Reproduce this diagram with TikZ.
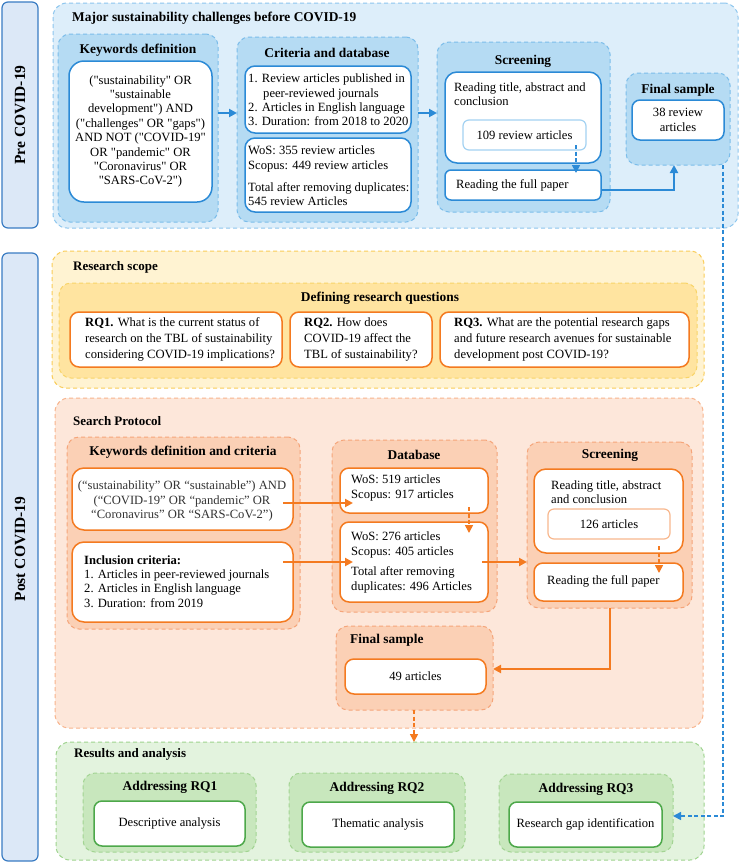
\documentclass[tikz,border=0pt]{standalone}
\usepackage{fontspec}
\setmainfont{Liberation Serif}[Ligatures=TeXOff]
\usetikzlibrary{arrows.meta,calc}
\definecolor{bline}{HTML}{2B8AD6}
\definecolor{bpanel}{HTML}{DDEEFA}
\definecolor{bpanelb}{HTML}{8DC6EE}
\definecolor{bgroup}{HTML}{B5DBF3}
\definecolor{bgroupb}{HTML}{7CBDEA}
\definecolor{blight}{HTML}{A4D2F2}
\definecolor{barfill}{HTML}{DCE8F7}
\definecolor{barline}{HTML}{3A7CC3}
\definecolor{ypanel}{HTML}{FFF3D2}
\definecolor{ypanelb}{HTML}{F9CC58}
\definecolor{ygroup}{HTML}{FFE4A0}
\definecolor{ygroupb}{HTML}{F8D468}
\definecolor{oline}{HTML}{F47A20}
\definecolor{opanel}{HTML}{FDE7DA}
\definecolor{opanelb}{HTML}{F8B48C}
\definecolor{ogroup}{HTML}{FBD0B5}
\definecolor{ogroupb}{HTML}{F5A57A}
\definecolor{olight}{HTML}{F8B88E}
\definecolor{gline}{HTML}{4DA84A}
\definecolor{gpanel}{HTML}{E3F3DE}
\definecolor{gpanelb}{HTML}{9ED38E}
\definecolor{ggroup}{HTML}{C8E7BD}
\definecolor{ggroupb}{HTML}{A3D493}
\definecolor{txtgray}{HTML}{333333}
\newcommand{\mkbox}[6]{\node[#6, minimum width={#4-#2}, minimum height={#5-#3}, inner sep=0pt, outer sep=0pt] (#1) at ({(#2+#4)/2},{(#3+#5)/2}) {};}
\tikzset{
  sidebar/.style={draw=barline, fill=barfill, line width=1.2pt, rounded corners=6pt},
  bartxt/.style={rotate=90, font=\bfseries\fontsize{15.5}{18}\selectfont},
  txt/.style={font=\fontsize{12.6}{14.4}\selectfont, inner sep=0pt},
  ttl/.style={font=\bfseries\fontsize{13.4}{16}\selectfont, inner sep=0pt},
  ttlb/.style={font=\bfseries\fontsize{13}{16}\selectfont, inner sep=0pt},
  dsh/.style={dashed, dash pattern=on 4pt off 3pt, line width=1pt},
  bpanelst/.style={dsh, draw=bpanelb, fill=bpanel, rounded corners=14pt},
  bgroupst/.style={dsh, draw=bgroupb, fill=bgroup, rounded corners=12pt},
  bwbox/.style={draw=bline, fill=white, line width=1.5pt, rounded corners=10pt},
  blightbox/.style={draw=blight, fill=white, line width=1.2pt, rounded corners=6pt},
  ypanelst/.style={dsh, draw=ypanelb, fill=ypanel, rounded corners=14pt},
  ygroupst/.style={dsh, draw=ygroupb, fill=ygroup, rounded corners=12pt},
  opanelst/.style={dsh, draw=opanelb, fill=opanel, rounded corners=14pt},
  ogroupst/.style={dsh, draw=ogroupb, fill=ogroup, rounded corners=12pt},
  owbox/.style={draw=oline, fill=white, line width=1.5pt, rounded corners=9pt},
  olightbox/.style={draw=olight, fill=white, line width=1.2pt, rounded corners=6pt},
  gpanelst/.style={dsh, draw=gpanelb, fill=gpanel, rounded corners=14pt},
  ggroupst/.style={dsh, draw=ggroupb, fill=ggroup, rounded corners=12pt},
  gwbox/.style={draw=gline, fill=white, line width=1.5pt, rounded corners=8pt},
  barrow/.style={draw=bline, line width=2pt, -{Triangle[length=8pt,width=8pt]}},
  bdarrow/.style={draw=bline, line width=1.6pt, dashed, dash pattern=on 4pt off 2.5pt, -{Triangle[length=8pt,width=8pt]}},
  oarrow/.style={draw=oline, line width=2pt, -{Triangle[length=8pt,width=8pt]}},
  odarrow/.style={draw=oline, line width=1.6pt, dashed, dash pattern=on 4pt off 2.5pt, -{Triangle[length=8pt,width=8pt]}},
}
\begin{document}
\begin{tikzpicture}[x=1pt,y=-1pt]
\useasboundingbox[fill=white] (0,0) rectangle (740,863);
% side bars
\mkbox{prebar}{2}{2}{38}{228}{sidebar}
\node[bartxt] (pretxt) at (prebar.center) {Pre COVID-19};
\mkbox{postbar}{2}{253}{38}{861}{sidebar}
\node[bartxt] (posttxt) at (20,549) {Post COVID-19};

% ===== Pre COVID panel =====
\mkbox{p1}{53}{3}{738}{228}{bpanelst}
\node[ttl, anchor=west] (p1t) at (72,18) {Major sustainability challenges before COVID-19};
\mkbox{kg}{58}{34}{218}{222}{bgroupst}
\node[ttl] (kgt) at (138,50) {Keywords definition};
\mkbox{kb}{69}{61}{212}{202}{bwbox, rounded corners=15pt}
\node[txt, align=center] (kbt) at (kb.center) {("sustainability" OR\\"sustainable\\development") AND\\("challenges" OR "gaps")\\AND NOT ("COVID-19"\\OR "pandemic" OR\\"Coronavirus" OR\\"SARS-CoV-2")};

\mkbox{cg}{237}{37}{418}{222}{bgroupst}
\node[ttl] (cgt) at (327,53) {Criteria and database};
\mkbox{cb1}{245}{66}{411}{133}{bwbox}
\node[txt, anchor=west, align=left] (cb1t) at (248,100) {1. Review articles published in\\\hspace*{15pt}peer-reviewed journals\\2. Articles in English language\\3. Duration: from 2018 to 2020};
\mkbox{cb2}{245}{138}{411}{212}{bwbox}
\node[txt, anchor=west, align=left] (cb2t) at (248,176) {WoS: 355 review articles\\Scopus: 449 review articles\\[8pt]Total after removing duplicates:\\545 review Articles};

\mkbox{sg}{437}{42}{610}{212}{bgroupst}
\node[ttl] (sgt) at (523,61) {Screening};
\mkbox{sb1}{445}{72}{601}{163}{bwbox, rounded corners=12pt}
\node[txt, anchor=west, align=left] (sb1t) at (454,94) {Reading title, abstract and\\conclusion};
\mkbox{sin}{463}{120}{586}{150}{blightbox}
\node[txt] (sint) at (sin.center) {109 review articles};
\mkbox{sb2}{445}{170}{601}{200}{bwbox, rounded corners=6pt}
\node[txt, anchor=west] (sb2t) at (456,185) {Reading the full paper};

\mkbox{fg}{626}{73}{730}{165}{bgroupst}
\node[ttl] (fgt) at (678,90) {Final sample};
\mkbox{fb}{632}{100}{724}{140}{bwbox, rounded corners=8pt}
\node[txt, align=center] (fbt) at (fb.center) {38 review\\articles};

\draw[barrow] (kg.east |- 0,113) -- (cg.west |- 0,113);
\draw[barrow] (cg.east |- 0,113) -- (sg.west |- 0,113);
\draw[bdarrow] ($(sin.south -| 576,0)+(0,-5)$) -- ($(sb2.north -| 576,0)+(0,3)$);
\draw[barrow] (sb2.east |- 0,190) -| (fg.south -| 674,0);

% ===== Research scope =====
\mkbox{rs}{52}{251}{704}{388}{ypanelst}
\node[ttlb, anchor=west] (rst) at (73,267) {Research scope};
\mkbox{rg}{59}{283}{697}{378}{ygroupst}
\node[ttl] (rgt) at (380,298) {Defining research questions};
\mkbox{rq1}{70}{312}{282}{367}{owbox}
\node[txt, anchor=west, align=left, font=\fontsize{12.6}{16}\selectfont] (rq1t) at (85,339.5) {\textbf{RQ1.} What is the current status of\\research on the TBL of sustainability\\considering COVID-19 implications?};
\mkbox{rq2}{290}{312}{432}{367}{owbox}
\node[txt, anchor=west, align=left, font=\fontsize{12.6}{16}\selectfont] (rq2t) at (304,339.5) {\textbf{RQ2.} How does\\COVID-19 affect the\\TBL of sustainability?};
\mkbox{rq3}{440}{312}{689}{367}{owbox}
\node[txt, anchor=west, align=left, font=\fontsize{12.6}{16}\selectfont] (rq3t) at (454,339.5) {\textbf{RQ3.} What are the potential research gaps\\and future research avenues for sustainable\\development post COVID-19?};

% ===== Search protocol =====
\mkbox{sp}{55}{398}{703}{728}{opanelst}
\node[ttlb, anchor=west] (spt) at (73,421) {Search Protocol};
\mkbox{okg}{67}{437}{300}{629}{ogroupst}
\node[ttl] (okgt) at (183,452) {Keywords definition and criteria};
\mkbox{ok1}{72}{468}{293}{530}{owbox, rounded corners=12pt}
\node[txt, align=center, text=txtgray] (ok1t) at (182,501) {(“sustainability” OR “sustainable”) AND\\(“COVID-19” OR “pandemic” OR\\“Coronavirus” OR “SARS-CoV-2”)};
\mkbox{ok2}{72}{542}{293}{622}{owbox, rounded corners=12pt}
\node[txt, anchor=west, align=left] (ok2t) at (84,581.5) {\textbf{Inclusion criteria:}\\1. Articles in peer-reviewed journals\\2. Articles in English language\\3. Duration: from 2019};

\mkbox{dg}{332}{440}{497}{612}{ogroupst}
\node[ttl] (dgt) at (414,455) {Database};
\mkbox{db1}{340}{468}{488}{513}{owbox}
\node[txt, anchor=west, align=left] (db1t) at (351,488) {WoS: 519 articles\\Scopus: 917 articles};
\mkbox{db2}{340}{522}{488}{602}{owbox}
\node[txt, anchor=west, align=left] (db2t) at (351,562.5) {WoS: 276 articles\\Scopus: 405 articles\\[6pt]Total after removing\\duplicates: 496 Articles};

\mkbox{osg}{527}{442}{692}{608}{ogroupst}
\node[ttl] (osgt) at (610,455) {Screening};
\mkbox{os1}{534}{469}{683}{553}{owbox, rounded corners=12pt}
\node[txt, anchor=west, align=left] (os1t) at (551,492) {Reading title, abstract\\and conclusion};
\mkbox{osin}{548}{509}{670}{539}{olightbox}
\node[txt] (osint) at (osin.center) {126 articles};
\mkbox{os2}{534}{563}{683}{601}{owbox}
\node[txt, anchor=west] (os2t) at (547,581) {Reading the full paper};

\mkbox{ofg}{336}{626}{493}{710}{ogroupst}
\node[ttl, anchor=west] (ofgt) at (350,640) {Final sample};
\mkbox{ofb}{345}{659}{486}{694}{owbox}
\node[txt] (ofbt) at (ofb.center) {49 articles};

\draw[oarrow] ($(ok1.east |- 0,503)+(-10,0)$) -- ($(db1.west |- 0,503)+(13,0)$);
\draw[oarrow] ($(ok2.east |- 0,562)+(-10,0)$) -- ($(db2.west |- 0,562)+(13,0)$);
\draw[oarrow] ($(db2.east |- 0,562)+(-6,0)$) -- (osg.west |- 0,562);
\draw[odarrow] ($(db1.south -| 469,0)+(0,-6)$) -- ($(db2.north -| 469,0)+(0,11)$);
\draw[odarrow] ($(osin.south -| 659,0)+(0,7)$) -- ($(os2.north -| 659,0)+(0,10)$);
\draw[oarrow] (osg.south -| 610,0) |- (ofg.east |- 0,669);

% ===== Results =====
\mkbox{res}{56}{742}{704}{860}{gpanelst}
\node[ttlb, anchor=west] (rest) at (74,754) {Results and analysis};
\mkbox{a1g}{83}{773}{256}{852}{ggroupst}
\node[ttl] (a1t) at (170,787) {Addressing RQ1};
\mkbox{a1b}{94}{801}{245}{846}{gwbox}
\node[txt] (a1bt) at (a1b.center) {Descriptive analysis};
\mkbox{a2g}{289}{773}{465}{852}{ggroupst}
\node[ttl] (a2t) at (377,788) {Addressing RQ2};
\mkbox{a2b}{302}{802}{454}{847}{gwbox}
\node[txt] (a2bt) at (a2b.center) {Thematic analysis};
\mkbox{a3g}{499}{774}{673}{852}{ggroupst}
\node[ttl] (a3t) at (586,789) {Addressing RQ3};
\mkbox{a3b}{509}{802}{662}{847}{gwbox}
\node[txt] (a3bt) at (a3b.center) {Research gap identification};

\draw[odarrow] (ofg.south -| 414,0) -- (res.north -| 414,0);
\draw[bdarrow] (fg.south -| 723,0) |- (a3g.east |- 0,816);
\end{tikzpicture}
\end{document}
